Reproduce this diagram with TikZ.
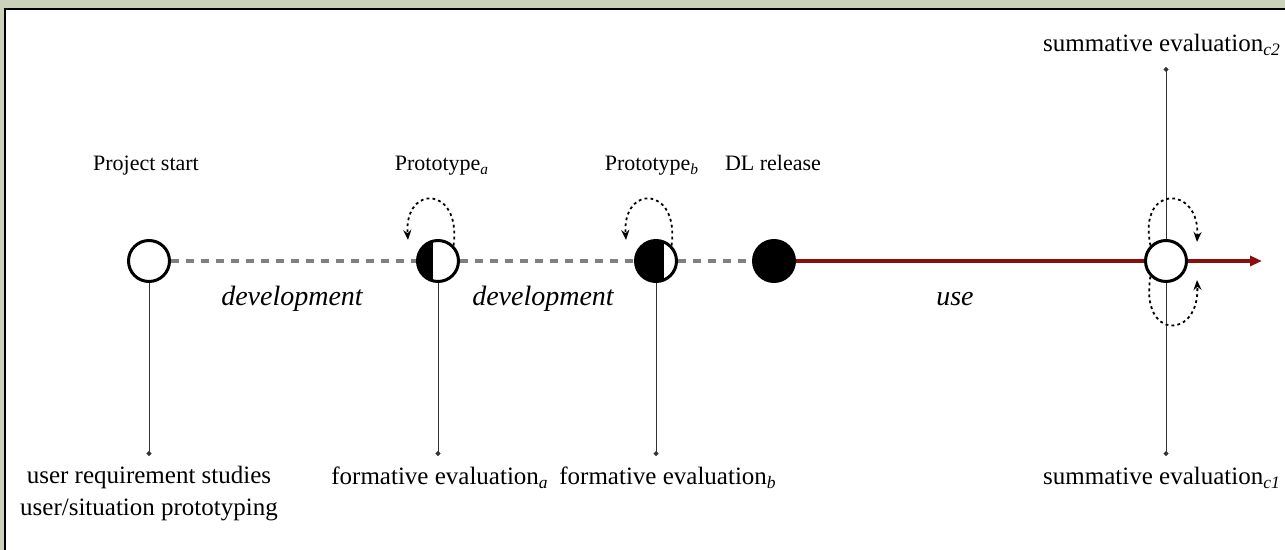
\documentclass[tikz,border=0pt]{standalone}
\usepackage{fontspec}
\setmainfont{Liberation Serif}
\usepackage{tikz}
\usetikzlibrary{arrows.meta, positioning}
\usepackage{xcolor}
\definecolor{framegreen}{HTML}{CCD1B9}
\definecolor{usered}{HTML}{8B0E0E}
\definecolor{devgray}{HTML}{808080}
\definecolor{stemgray}{HTML}{333333}

\tikzset{
  milestone/.style={circle, draw=black, line width=1.5pt, fill=white,
                    minimum size=20.5pt, inner sep=0pt},
  protoa/.style={milestone, path picture={
      \fill[black] ([xshift=-2.5pt]path picture bounding box.north)
                   rectangle (path picture bounding box.south west);}},
  protob/.style={milestone, path picture={
      \fill[black] ([xshift=3.75pt]path picture bounding box.north)
                   rectangle (path picture bounding box.south west);}},
  devline/.style={devgray, line width=1.6pt, dash pattern=on 4pt off 3.5pt},
  useline/.style={usered, line width=1.6pt},
  stem/.style={stemgray, line width=0.5pt, -{Circle[length=2.4pt]}},
  cyclearrow/.style={line width=0.9pt, dash pattern=on 1.4pt off 1.6pt,
                     -{Stealth[length=5pt, width=4pt]}},
  toplabel/.style={font=\fontsize{11}{13}\selectfont, anchor=base},
  botlabel/.style={font=\fontsize{12.5}{16}\selectfont, align=center},
  phaselabel/.style={font=\fontsize{14}{16}\selectfont\itshape}
}

\begin{document}
\begin{tikzpicture}[x=0.5pt, y=-0.5pt]
  \useasboundingbox (0,0) rectangle (1285,550);
  \fill[framegreen] (0,0) rectangle (1285,550);
  \draw[line width=1pt, fill=white] (5,9) rectangle (1300,570);

  % time line
  \node[milestone] (start) at (149,261) {};
  \node[protoa] (pa) at (438,261) {};
  \node[protob] (pb) at (656,261) {};
  \node[milestone, fill=black] (release) at (774,261) {};
  \node[milestone] (summ) at (1166,261) {};
  \coordinate (tip) at (1262,261);

  \draw[devline] (start) -- (pa);
  \draw[devline] (pa) -- (pb);
  \draw[devline] (pb) -- (release);
  \draw[useline] (release) -- (summ);
  \draw[useline, -{Triangle[length=6pt, width=5pt]}] (summ) -- (tip);

  \node[toplabel] (lstart) at (146,171) {Project start};
  \node[toplabel] (lpa) at (442,171) {Prototype\textsubscript{\textit{a}}};
  \node[toplabel] (lpb) at (652,171) {Prototype\textsubscript{\textit{b}}};
  \node[toplabel] (lrelease) at (773,171) {DL release};

  \node[phaselabel] (dev1) at (292,299) {development};
  \node[phaselabel] (dev2) at (543,299) {development};
  \node[phaselabel] (use) at (955,299) {use};

  % evaluations
  \coordinate (estart) at (149,456);
  \coordinate (ea) at (438,456);
  \coordinate (eb) at (656,456);
  \coordinate (ec1) at (1166,456);
  \coordinate (ec2) at (1166,67);
  \draw[stem] (start) -- (estart);
  \draw[stem] (pa) -- (ea);
  \draw[stem] (pb) -- (eb);
  \draw[stem] (summ) -- (ec1);
  \draw[stem] (summ) -- (ec2);

  \node[botlabel] (lestart) at (149,494)
    {user requirement studies\\user/situation prototyping};
  \node[botlabel] (lea) at (440,478) {formative evaluation\textsubscript{\textit{a}}};
  \node[botlabel] (leb) at (668,478) {formative evaluation\textsubscript{\textit{b}}};
  \node[botlabel] (lec1) at (1162,478) {summative evaluation\textsubscript{\textit{c1}}};
  \node[botlabel] (lec2) at (1162,45) {summative evaluation\textsubscript{\textit{c2}}};

  % iterations
  \draw[cyclearrow] (pa.45) .. controls +(8,-60) and +(-4,-56)
    .. ([shift={(-8,-21)}]pa.west);
  \draw[cyclearrow] (pb.45) .. controls +(8,-60) and +(-4,-56)
    .. ([shift={(-8,-21)}]pb.west);
  \draw[cyclearrow] (summ.135) .. controls +(-13,-62) and +(3,-57)
    .. ([shift={(9,-19)}]summ.east);
  \draw[cyclearrow] (summ.225) .. controls +(-11,64) and +(3,60)
    .. ([shift={(9,19)}]summ.east);
\end{tikzpicture}
\end{document}
